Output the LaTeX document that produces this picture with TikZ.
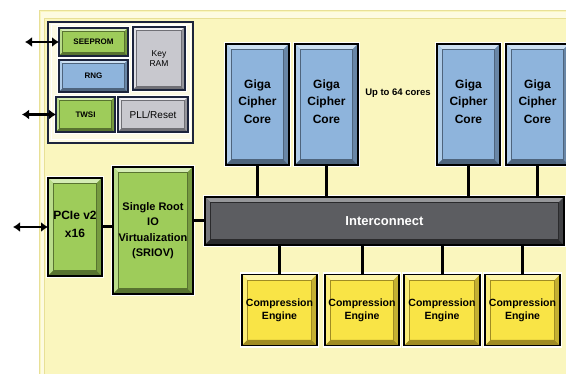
\documentclass[tikz,border=0pt]{standalone}
\usepackage{fontspec}
\setmainfont{Liberation Sans}
\usetikzlibrary{arrows.meta}
\definecolor{bgY}{RGB}{250,246,190}
\definecolor{bgLine}{RGB}{232,224,150}
\definecolor{bgLight}{RGB}{253,251,225}
\definecolor{cNavy}{RGB}{28,36,60}
\definecolor{cCream}{RGB}{252,250,228}
% base colours and their bevel shades (A top, B left, C bottom, D right)
\definecolor{cGreen}{RGB}{158,204,90}
\definecolor{cGreenA}{RGB}{212,236,180}
\definecolor{cGreenB}{RGB}{185,220,138}
\definecolor{cGreenC}{RGB}{88,115,48}
\definecolor{cGreenD}{RGB}{118,154,64}
\definecolor{cBlue}{RGB}{142,180,220}
\definecolor{cBlueA}{RGB}{205,224,242}
\definecolor{cBlueB}{RGB}{174,203,232}
\definecolor{cBlueC}{RGB}{78,100,125}
\definecolor{cBlueD}{RGB}{105,134,166}
\definecolor{cGray}{RGB}{200,200,206}
\definecolor{cGrayA}{RGB}{240,240,243}
\definecolor{cGrayB}{RGB}{224,224,228}
\definecolor{cGrayC}{RGB}{112,112,118}
\definecolor{cGrayD}{RGB}{150,150,156}
\definecolor{cDark}{RGB}{92,93,97}
\definecolor{cDarkA}{RGB}{150,151,154}
\definecolor{cDarkB}{RGB}{118,119,123}
\definecolor{cDarkC}{RGB}{42,42,44}
\definecolor{cDarkD}{RGB}{64,65,68}
\definecolor{cYellow}{RGB}{249,228,70}
\definecolor{cYellowA}{RGB}{253,245,170}
\definecolor{cYellowB}{RGB}{251,237,120}
\definecolor{cYellowC}{RGB}{160,140,35}
\definecolor{cYellowD}{RGB}{196,176,50}
\tikzset{
  x=1pt, y=-1pt,
  boxn/.style={inner sep=0pt, outer sep=0pt},
  lbl/.style={inner sep=0pt, align=center},
  wire/.style={line width=3pt, draw=black},
  ioarrow/.style={line width=2.6pt, {Latex[length=7pt,width=10pt]}-{Latex[length=7pt,width=10pt]}},
}
\begin{document}
\begin{tikzpicture}
\useasboundingbox (0,0) rectangle (566,374);
\fill[white] (0,0) rectangle (566,374);
% yellow panel
\fill[bgY] (39,10) rectangle (566,374);
\fill[bgLight] (41,12) rectangle (566,18);
\fill[bgLight] (41,12) rectangle (44,374);
\draw[bgLine, line width=1pt] (39.5,374) -- (39.5,10.5) -- (566,10.5);
\draw[bgLine, line width=0.6pt] (44.5,374) -- (44.5,18.5) -- (566,18.5);
% group frame
\node[draw=cNavy, line width=2.5pt, fill=cCream, minimum width=145, minimum height=121, inner sep=0pt] (grp) at (120.5,82.5) {};
\draw[white, line width=1pt] (51,25) rectangle (190,140);
% box shapes
\node[boxn, minimum width=69, minimum height=28] (seeprom) at (93.5,42) {};
\node[boxn, minimum width=69, minimum height=32] (rng) at (93.5,76) {};
\node[boxn, minimum width=52, minimum height=63] (keyram) at (159,58.5) {};
\node[boxn, minimum width=59, minimum height=35] (twsi) at (85.5,114.5) {};
\node[boxn, minimum width=70, minimum height=35] (pll) at (153,114.5) {};
\foreach \n/\x in {1/257.5,2/326.5,3/468.5,4/537.5}
  \node[boxn, minimum width=63, minimum height=121] (core\n) at (\x,104.5) {};
\node[boxn, minimum width=359, minimum height=48] (ic) at (384.5,221) {};
\foreach \n/\x/\w in {1/279.5/75,2/362/74,3/442/76,4/522.5/75}
  \node[boxn, minimum width=\w, minimum height=71] (ce\n) at (\x,310) {};
\node[boxn, minimum width=54, minimum height=98] (pcie) at (75,227) {};
\node[boxn, minimum width=80, minimum height=127] (sriov) at (153,230.5) {};
% bevelled faces
\foreach \nm/\col/\bw/\bc/\lw/\hw in {
  seeprom/cGreen/3.5pt/cNavy/2.2pt/4pt, rng/cBlue/3.5pt/cNavy/2.2pt/4pt,
  keyram/cGray/3.5pt/cNavy/2.2pt/4pt, twsi/cGreen/3.5pt/cNavy/2.2pt/4pt,
  pll/cGray/3.5pt/cNavy/2.2pt/4pt,
  core1/cBlue/5.5pt/black/1.4pt/4.2pt, core2/cBlue/5.5pt/black/1.4pt/4.2pt,
  core3/cBlue/5.5pt/black/1.4pt/4.2pt, core4/cBlue/5.5pt/black/1.4pt/4.2pt,
  ic/cDark/5.5pt/black/1.4pt/4.2pt,
  ce1/cYellow/5.5pt/black/1.4pt/4.2pt, ce2/cYellow/5.5pt/black/1.4pt/4.2pt,
  ce3/cYellow/5.5pt/black/1.4pt/4.2pt, ce4/cYellow/5.5pt/black/1.4pt/4.2pt,
  pcie/cGreen/5.5pt/black/1.4pt/4.2pt, sriov/cGreen/5.5pt/black/1.4pt/4.2pt}{
  \draw[white, line width=\hw] (\nm.south west) rectangle (\nm.north east);
  \fill[fill=\col] (\nm.south west) rectangle (\nm.north east);
  \fill[fill=\col A] (\nm.north west) -- (\nm.north east)
     -- ([xshift=-\bw,yshift=-\bw]\nm.north east) -- ([xshift=\bw,yshift=-\bw]\nm.north west) -- cycle;
  \fill[fill=\col B] (\nm.south west) -- (\nm.north west)
     -- ([xshift=\bw,yshift=-\bw]\nm.north west) -- ([xshift=\bw,yshift=\bw]\nm.south west) -- cycle;
  \fill[fill=\col C] (\nm.south west) -- (\nm.south east)
     -- ([xshift=-\bw,yshift=\bw]\nm.south east) -- ([xshift=\bw,yshift=\bw]\nm.south west) -- cycle;
  \fill[fill=\col D] (\nm.south east) -- (\nm.north east)
     -- ([xshift=-\bw,yshift=-\bw]\nm.north east) -- ([xshift=-\bw,yshift=\bw]\nm.south east) -- cycle;
  \draw[draw=\col C, line width=0.4pt] ([xshift=\bw,yshift=\bw]\nm.south west) rectangle ([xshift=-\bw,yshift=-\bw]\nm.north east);
  \draw[draw=\bc, line width=\lw] (\nm.south west) rectangle (\nm.north east);
}
% labels
\node[lbl, font=\bfseries\fontsize{8}{9.5}\selectfont] (seepromt) at (seeprom) {SEEPROM};
\node[lbl, font=\bfseries\fontsize{8}{9.5}\selectfont] (rngt) at (rng) {RNG};
\node[lbl, font=\fontsize{8.5}{9.5}\selectfont] (keyramt) at (keyram) {Key\\RAM};
\node[lbl, font=\bfseries\fontsize{8}{9.5}\selectfont] (twsit) at (twsi) {TWSI};
\node[lbl, font=\fontsize{10}{12}\selectfont] (pllt) at (pll) {PLL/Reset};
\foreach \n in {1,2,3,4}{
  \node[lbl, font=\bfseries\fontsize{12}{17.5}\selectfont] (core\n t) at ([yshift=3pt]core\n) {Giga\\Cipher\\Core};
  \node[lbl, font=\bfseries\fontsize{10.5}{13.3}\selectfont] (ce\n t) at (ce\n) {Compression\\Engine};
}
\node[lbl, font=\bfseries\fontsize{9.5}{11}\selectfont] (upto) at (398,93) {Up to 64 cores};
\node[lbl, text=white, font=\bfseries\fontsize{13}{15}\selectfont] (ict) at (ic) {Interconnect};
\node[lbl, font=\bfseries\fontsize{12}{18}\selectfont] (pciet) at ([yshift=3pt]pcie) {PCIe v2\\x16};
\node[lbl, font=\bfseries\fontsize{11}{15.5}\selectfont] (sriovt) at (sriov) {Single Root\\IO\\Virtualization\\(SRIOV)};
% wires
\foreach \n in {1,2,3,4}{
  \draw[wire] (core\n.south) -- (core\n.south |- ic.north);
  \draw[wire] (ce\n.north) -- (ce\n.north |- ic.south);
}
\draw[wire] (pcie.east) -- (pcie.east -| sriov.west);
\draw[wire] (ic.west) -- (ic.west -| sriov.east);
% io arrows
\coordinate (eSeeprom) at (25,42);
\coordinate (eTwsi) at (22,114.5);
\coordinate (ePcie) at (13,227);
\draw[ioarrow] (eSeeprom) -- (seeprom.west);
\draw[ioarrow] (eTwsi) -- (twsi.west);
\draw[ioarrow] (ePcie) -- (pcie.west);
\end{tikzpicture}
\end{document}
